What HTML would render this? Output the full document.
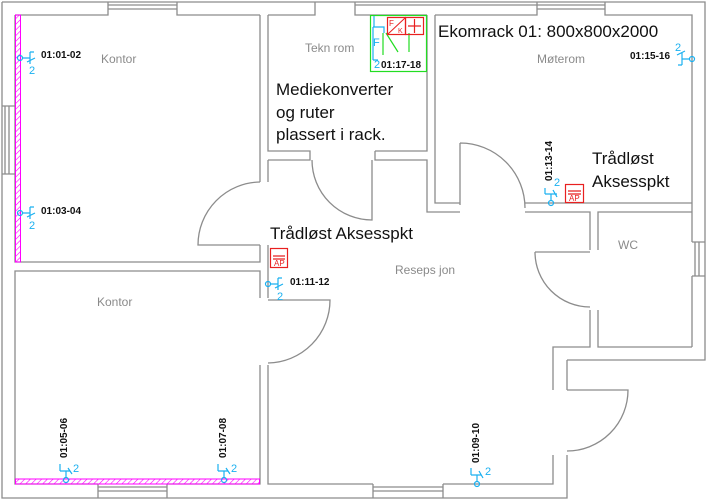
<!DOCTYPE html>
<html><head><meta charset="utf-8"><style>
html,body{margin:0;padding:0;background:#fff}
svg{display:block}
text{font-family:"Liberation Sans",sans-serif}
.g{fill:#8a8a8a;font-size:12px}
.b{fill:#111;font-size:17px}
.s{fill:#111;font-size:10px;font-weight:bold}
.c{fill:#1ab0f0;font-size:11px}
</style></head><body>
<svg width="707" height="500" viewBox="0 0 707 500" xmlns="http://www.w3.org/2000/svg">
<defs>
<pattern id="h" width="4" height="4" patternUnits="userSpaceOnUse" patternTransform="rotate(45)">
<line x1="0" y1="0" x2="0" y2="4" stroke="#ff00ff" stroke-width="1.2"/>
</pattern>
</defs>
<g fill="none" stroke="#8c8c8c" stroke-width="1.3">
<!-- outer boundary -->
<path d="M2,2 H705 V360 H567 M2,2 V498 H567 V455"/>
<!-- top wall inner segments -->
<path d="M15,15 H108 V2 M177,2 V15 H260 M268,15 H315 V2 M355,2 V15 H427 M435,15 H537 V2 M605,2 V15 H692 V242 M692,276 V347"/>
<!-- windows -->
<path d="M108,5 H177 M108,9 H177 M355,5 H537 M537,5 H605 M537,9 H605 M5,106 V174 M9,106 V174 M2,106 H15 M2,174 H15 M695,242 V276 M699,242 V276 M692,242 H705 M692,276 H705 M98,487 H167 M98,491 H167 M98,484 V498 M167,484 V498 M373,487 H443 M373,491 H443 M373,484 V498 M443,484 V498"/>
<!-- left room -->
<path d="M15,15 V262 H260 V245 M268,245 V271 M260,182 V15 M268,182 V160"/>
<!-- Tekn rom -->
<path d="M268,15 V151 H310 V160 H268 M375,151 V160 H427 V212 H460 M375,151 H427 V15 M435,15 V203 H460 M525,203 H692 M525,212 H590 V250 M598,250 V212 H692"/>
<!-- WC -->
<path d="M590,310 V347 H553 V390 M598,310 V347 H692 M567,360 V390 M553,455 V484 H443 M373,484 H268 V365 M260,365 V484 H167 M98,484 H15 V271 H260 V298 M268,298 V271"/>
<!-- doors -->
<path d="M260,182 A63,63 0 0 0 198,245 H260"/>
<path d="M312,160 A60,60 0 0 0 372,220 V160"/>
<path d="M460,143 V205 M460,143 A65,65 0 0 1 525,208"/>
<path d="M535,252 H590 M535,252 A55,55 0 0 0 590,307"/>
<path d="M567,390 H628 A61,61 0 0 1 567,451"/>
<path d="M268,300 H330 A63,63 0 0 1 268,363"/>
</g>
<!-- hatch -->
<rect x="15.5" y="15" width="5" height="247" fill="url(#h)" stroke="#ff00ff" stroke-width="1"/>
<rect x="15.5" y="479" width="244" height="5" fill="url(#h)" stroke="#ff00ff" stroke-width="1"/>
<!-- room labels -->
<text class="g" x="101" y="63">Kontor</text>
<text class="g" x="305" y="52">Tekn rom</text>
<text class="g" x="537" y="63">Møterom</text>
<text class="g" x="618" y="249">WC</text>
<text class="g" x="395" y="274">Reseps jon</text>
<text class="g" x="97" y="306">Kontor</text>
<!-- big labels -->
<text class="b" x="276" y="95">Mediekonverter</text>
<text class="b" x="276" y="118">og ruter</text>
<text class="b" x="276" y="140">plassert i rack.</text>
<text class="b" x="438" y="37">Ekomrack 01: 800x800x2000</text>
<text class="b" x="270" y="239">Trådløst Aksesspkt</text>
<text class="b" x="592" y="164">Trådløst</text>
<text class="b" x="592" y="187">Aksesspkt</text>
<!-- outlets -->
<g fill="none" stroke="#1ab0f0" stroke-width="1.2">
<circle cx="20" cy="58" r="2.5"/><path d="M22,58 H30 M30,52 V64 M30,52 H34 M27,62 L35,58"/>
<circle cx="20" cy="213" r="2.5"/><path d="M22,213 H30 M30,207 V219 M30,207 H34 M27,217 L35,213"/>
<circle cx="268" cy="284" r="2.5"/><path d="M270,284 H278 M278,278 V290 M278,278 H282 M275,288 L283,284"/>
<circle cx="692" cy="59" r="2.5"/><path d="M690,59 H682 M682,53 V65 M682,65 H678 M677,55 L685,51"/>
<circle cx="551" cy="203" r="2.5"/><path d="M551,201 V194 M545,194 H557 M545,194 V188 M553,190 L557,197"/>
<circle cx="66" cy="480" r="2.5"/><path d="M66,478 V471 M60,471 H70 M60,471 V464 M68,468 L72,474"/>
<circle cx="224" cy="480" r="2.5"/><path d="M224,478 V471 M218,471 H228 M218,471 V464 M226,468 L230,474"/>
<circle cx="477" cy="484" r="2.5"/><path d="M477,482 V475 M471,475 H481 M471,475 V468 M479,471 L483,478"/>
</g>
<text class="c" x="29" y="74">2</text>
<text class="c" x="29" y="229">2</text>
<text class="c" x="277" y="300">2</text>
<text class="c" x="675" y="51">2</text>
<text class="c" x="554" y="186">2</text>
<text class="c" x="73" y="472">2</text>
<text class="c" x="231" y="472">2</text>
<text class="c" x="485" y="475">2</text>
<text class="s" x="41" y="58">01:01-02</text>
<text class="s" x="41" y="214">01:03-04</text>
<text class="s" x="290" y="285">01:11-12</text>
<text class="s" x="630" y="59">01:15-16</text>
<text class="s" transform="translate(552,181) rotate(-90)">01:13-14</text>
<text class="s" transform="translate(67,458) rotate(-90)">01:05-06</text>
<text class="s" transform="translate(226,458) rotate(-90)">01:07-08</text>
<text class="s" transform="translate(479,463) rotate(-90)">01:09-10</text>
<!-- rack box -->
<rect x="370.5" y="15.5" width="56" height="56" fill="none" stroke="#22dd22" stroke-width="1.2"/>
<path d="M383,33 V55 M386,33 L398,52 M409,33 V52" stroke="#22dd22" fill="none" stroke-width="1.2"/>
<path d="M374,16 V27 M373,27 H384 V33 M373,27 V60 M373,60 H378" stroke="#1ab0f0" fill="none" stroke-width="1.2"/>
<text class="c" x="373" y="46">F</text>
<text class="c" x="374" y="68">2</text>
<text class="s" x="381" y="68">01:17-18</text>
<rect x="387.5" y="17.5" width="18" height="17" fill="none" stroke="#e82020" stroke-width="1.2"/>
<path d="M388,34 L405,18" stroke="#e82020"/>
<text x="389" y="26" fill="#e82020" font-size="8">F</text>
<text x="398" y="33" fill="#e82020" font-size="7">K</text>
<rect x="405.5" y="17.5" width="18" height="17" fill="none" stroke="#e82020" stroke-width="1.2"/>
<path d="M408,26 H421 M414.5,19 V33" stroke="#e82020" stroke-width="1.2"/>
<!-- AP icons -->
<g stroke="#e82020" fill="none" stroke-width="1.2">
<rect x="270.5" y="248.5" width="17" height="19"/><path d="M273,256 H285 M273,259 H285"/>
<rect x="565.5" y="184.5" width="18" height="18"/><path d="M568,191 H581 M568,194 H581"/>
</g>
<text x="274" y="266" fill="#e82020" font-size="8">AP</text>
<text x="569" y="201" fill="#e82020" font-size="8">AP</text>
</svg>
</body></html>
